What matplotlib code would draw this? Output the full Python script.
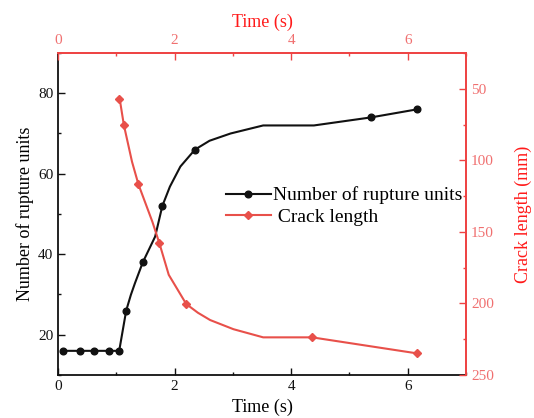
import matplotlib
matplotlib.use("Agg")
import matplotlib.pyplot as plt
from matplotlib.ticker import MultipleLocator

plt.rcParams['font.family'] = ['Liberation Serif', 'DejaVu Serif']

# Number of rupture units vs time
rupture_time = [0.09, 0.37, 0.62, 0.88, 1.05, 1.17, 1.25, 1.32, 1.455, 1.667, 1.79,
                1.92, 2.10, 2.35, 2.60, 2.96, 3.52, 4.39, 5.37, 6.16]
rupture_units = [16, 16, 16, 16, 16, 26, 29.9, 32.8, 38, 44.4, 52,
                 56.8, 61.8, 66, 68.2, 70, 72, 72, 74, 76]
rupture_marks = [0, 1, 2, 3, 4, 5, 8, 10, 13, 18, 19]

# Crack length vs time
crack_time = [1.04, 1.07, 1.13, 1.27, 1.38, 1.62, 1.74, 1.90, 2.20, 2.40, 2.61, 3.01, 3.52, 4.36, 6.16]
crack_len = [57, 60, 75.3, 101, 116.8, 143, 158, 180, 200.4, 206.5, 211.6, 218, 223.7, 223.7, 234.9]
crack_marks = [0, 2, 4, 6, 8, 13, 14]

x_ticks = [0, 2, 4, 6]
left_ticks = [20, 40, 60, 80]
right_ticks = [50, 100, 150, 200, 250]

black = '#111111'
red_line = '#E8504A'
red_spine = '#EE4444'
red_tick = '#F07070'
red_label = '#FF1A1A'

fig = plt.figure(figsize=(5.34, 4.18), dpi=100)
ax = fig.add_axes([0.1086, 0.1029, 0.7641, 0.7703])
ax2 = ax.twinx()
ax3 = ax.twiny()

l1, = ax.plot(rupture_time, rupture_units, color=black, lw=1.5, marker='o', ms=4.8,
              markevery=rupture_marks, label='Number of rupture units')
l2, = ax2.plot(crack_time, crack_len, color=red_line, lw=1.5, marker='D', ms=4,
               markevery=crack_marks, label=' Crack length')

ax.set_xlim(0, 7)
ax.set_ylim(10, 90)
ax2.set_ylim(250, 25)
ax3.set_xlim(0, 7)

ax.set_xticks(x_ticks)
ax.xaxis.set_minor_locator(MultipleLocator(1))
ax.set_yticks(left_ticks)
ax.yaxis.set_minor_locator(MultipleLocator(10))
ax2.set_yticks(right_ticks)
ax2.yaxis.set_minor_locator(MultipleLocator(25))
ax3.set_xticks(x_ticks)
ax3.xaxis.set_minor_locator(MultipleLocator(1))

ax.tick_params(which='major', direction='in', length=5, width=1, labelsize=11, colors=black)
ax.tick_params(which='minor', direction='in', length=2.5, width=1, colors=black)
ax2.tick_params(which='major', direction='in', length=5, width=1, labelsize=11,
                color=red_spine, labelcolor=red_tick)
ax2.tick_params(which='minor', direction='in', length=2.5, width=1, color=red_spine)
ax3.tick_params(which='major', direction='in', length=5, width=1, labelsize=11,
                color=red_spine, labelcolor=red_tick, pad=4.5)
ax3.tick_params(which='minor', direction='in', length=2.5, width=1, color=red_spine)

for a in (ax, ax2, ax3):
    for s in a.spines.values():
        s.set_linewidth(1.3)
    a.spines['left'].set_color(black)
    a.spines['bottom'].set_color(black)
    a.spines['right'].set_color(red_spine)
    a.spines['top'].set_color(red_spine)
for a in (ax2, ax3):
    a.spines['left'].set_visible(False)
    a.spines['bottom'].set_visible(False)
ax.spines['right'].set_visible(False)
ax.spines['top'].set_visible(False)

ax.set_xlabel('Time (s)', fontsize=13, labelpad=4)
ax.set_ylabel('Number of rupture units', fontsize=13, labelpad=3)
ax2.set_ylabel('Crack length (mm)', fontsize=13, color=red_label, labelpad=15)
ax3.set_xlabel('Time (s)', fontsize=13, color=red_label, labelpad=5)

leg = fig.legend(handles=[l1, l2], loc='upper left', bbox_to_anchor=(0.405, 0.577),
                 frameon=False, fontsize=14, handlelength=2.3, handletextpad=0.1,
                 numpoints=1, borderpad=0, labelspacing=0.2)

fig.savefig('out.png', dpi=100)
